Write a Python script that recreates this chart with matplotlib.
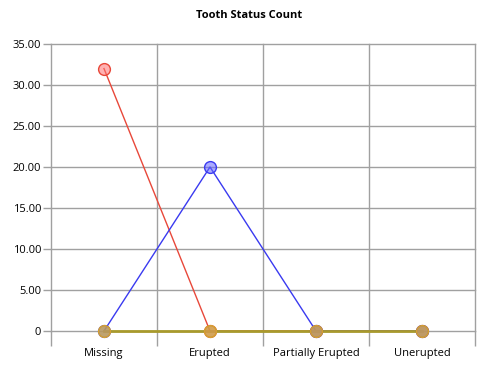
import matplotlib.pyplot as plt
from matplotlib.ticker import FixedLocator, FuncFormatter

categories = ['Missing', 'Erupted', 'Partially Erupted', 'Unerupted']
missing = [32, 0, 0, 0]
erupted = [0, 20, 0, 0]
other = [0, 0, 0, 0]

plt.rcParams['font.family'] = ['Open Sans', 'DejaVu Sans']

fig = plt.figure(figsize=(4.99, 3.69), dpi=100)
ax = fig.add_axes([0.1022, 0.1030, 0.8497, 0.7778])

x = list(range(len(categories)))
ax.plot(x, missing, color='#e8483a', lw=1, zorder=3)
ax.plot(x, erupted, color='#3a3af0', lw=1, zorder=3)
ax.plot(x, other, color='#a89a2c', lw=2, zorder=4)
ax.plot(x, missing, 'o', ms=8.5, mfc=(1, 0.45, 0.45, 0.55), mec='#e8483a', mew=1, zorder=5)
ax.plot(x, erupted, 'o', ms=8.5, mfc=(0.4, 0.4, 1, 0.55), mec='#3a3af0', mew=1, zorder=5)
ax.plot(x, other, 'o', ms=8.5, mfc=(0.78, 0.63, 0.25, 0.75), mec='#d4a030', mew=1, zorder=6)

ax.set_xlim(-0.5, 3.5)
ax.set_ylim(0, 35)
ax.set_xticks(x)
ax.set_xticklabels(categories, fontsize=8)
ax.xaxis.set_minor_locator(FixedLocator([-0.5, 0.5, 1.5, 2.5, 3.5]))
ax.tick_params(axis='x', which='major', length=0, pad=12)
ax.tick_params(axis='x', which='minor', length=11, color='#a0a0a0', width=1)
ax.set_yticks(range(0, 36, 5))
ax.yaxis.set_major_formatter(FuncFormatter(lambda v, p: '0' if v == 0 else '%.2f' % v))
ax.tick_params(axis='y', length=6, color='#a0a0a0', width=1, labelsize=8, pad=1)
ax.grid(True, axis='y', which='major', color='#a0a0a0', lw=1)
ax.grid(True, axis='x', which='minor', color='#a0a0a0', lw=1)
ax.set_axisbelow(True)
for s in ax.spines.values():
    s.set_visible(False)
for t in ax.yaxis.get_major_ticks() + ax.xaxis.get_minor_ticks():
    t.gridline.set_clip_on(False)
for ln in ax.lines:
    ln.set_clip_on(False)

fig.text(0.5, 0.957, 'Tooth Status Count', ha='center', va='center', fontsize=8, fontweight='bold')

fig.savefig('out.png', dpi=100)
